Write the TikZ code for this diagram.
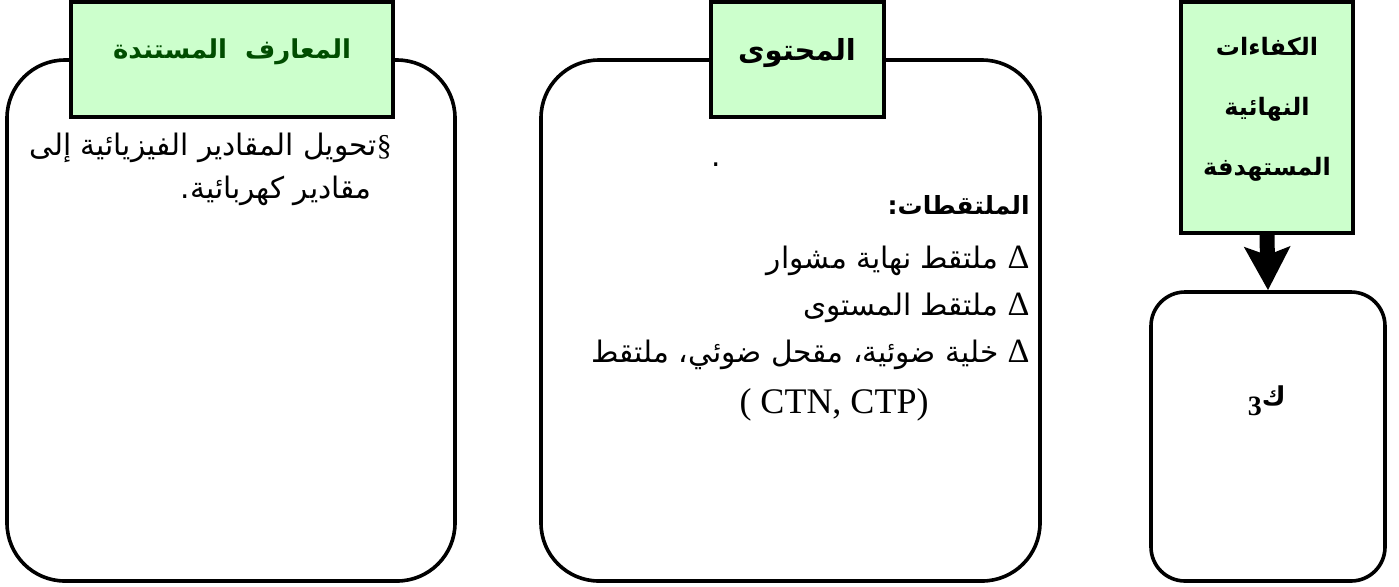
\documentclass[tikz,border=0pt]{standalone}
\usepackage{fontspec}
\setmainfont{Liberation Serif}
\newfontfamily\arfont[Script=Arabic]{DejaVu Sans}
\TeXXeTstate=1
\usetikzlibrary{arrows.meta}
\definecolor{hdrfill}{HTML}{CCFFCC}
\definecolor{hdrtext}{HTML}{004D00}
\begin{document}
\begin{tikzpicture}[x=0.5pt,y=-0.5pt,
  panel/.style={draw=black, line width=1.8pt, rounded corners=29pt, inner sep=0pt},
  hdr/.style={draw=black, line width=1.8pt, fill=hdrfill, inner sep=0pt},
  body/.style={inner sep=0pt, anchor=base east, font=\arfont\fontsize{14.8}{18}\selectfont},
  htitle/.style={inner sep=0pt, anchor=base, font=\arfont\bfseries\fontsize{14.5}{18}\selectfont},
  rtitle/.style={inner sep=0pt, anchor=base, font=\arfont\bfseries\fontsize{12}{14}\selectfont},
  bigarrow/.style={line width=7.5pt, -{Stealth[width=22.5pt, length=21.5pt, inset=4pt]}},
]
\useasboundingbox (0,0) rectangle (1399,586);
\fill[white] (0,0) rectangle (1399,586);

% panels
\node[panel, minimum width=224pt, minimum height=260.5pt] (leftbox) at (231,320.5) {};
\node[panel, minimum width=249.5pt, minimum height=260.5pt] (midbox) at (790.5,320.5) {};
\node[panel, rounded corners=17pt, minimum width=117pt, minimum height=144.5pt] (rightbox) at (1268,436.5) {};

% headers
\node[hdr, minimum width=161pt, minimum height=57.6pt] (lhdr) at (232,59.4) {};
\node[hdr, minimum width=86.5pt, minimum height=57.6pt] (mhdr) at (797.5,59.4) {};
\node[hdr, minimum width=86pt, minimum height=115.6pt] (rhdr) at (1267,117.4) {};

\draw[bigarrow] (rhdr.south) -- (rightbox.north);

% header titles
\node[htitle, text=hdrtext, font=\arfont\bfseries\fontsize{13}{16}\selectfont] (lhdrtxt) at (232,58) {\beginR المعارف\ \ المستندة\endR};
\node[htitle] (mhdrtxt) at (797,60) {\beginR المحتوى\endR};
\node[rtitle] (rh1) at (1267,55) {\beginR الكفاءات\endR};
\node[rtitle] (rh2) at (1267,115) {\beginR النهائية\endR};
\node[rtitle] (rh3) at (1267,175) {\beginR المستهدفة\endR};

% left panel text
\node[body] (l1) at (392,155) {\beginR {\rmfamily §}تحويل المقادير الفيزيائية إلى\endR};
\node[body] (l2) at (372,198) {\beginR مقادير كهربائية.\endR};

% middle panel text
\node[body] (dot) at (721,166) {.};
\node[body, font=\arfont\bfseries\fontsize{12.5}{16}\selectfont] (m0) at (1030,214) {\beginR الملتقطات:\endR};
\node[body] (m1) at (1030,268) {\beginR ملتقط نهاية مشوار\endR\ {\rmfamily\fontsize{17}{18}\selectfont Δ}};
\node[body] (m2) at (1030,315) {\beginR ملتقط المستوى\endR\ {\rmfamily\fontsize{17}{18}\selectfont Δ}};
\node[body] (m3) at (1030,362) {\beginR خلية ضوئية، مقحل ضوئي، ملتقط\endR\ {\rmfamily\fontsize{17}{18}\selectfont Δ}};
\node[inner sep=0pt, anchor=base, font=\rmfamily\fontsize{18}{20}\selectfont] (m4) at (834,413) {( CTN, CTP)};

% right panel text
\node[inner sep=0pt, anchor=base east] (k3) at (1286,405) {{\rmfamily\bfseries\fontsize{14}{14}\selectfont\raisebox{-5pt}{3}}{\arfont\bfseries\fontsize{13}{14}\selectfont ك}};
\end{tikzpicture}
\end{document}
